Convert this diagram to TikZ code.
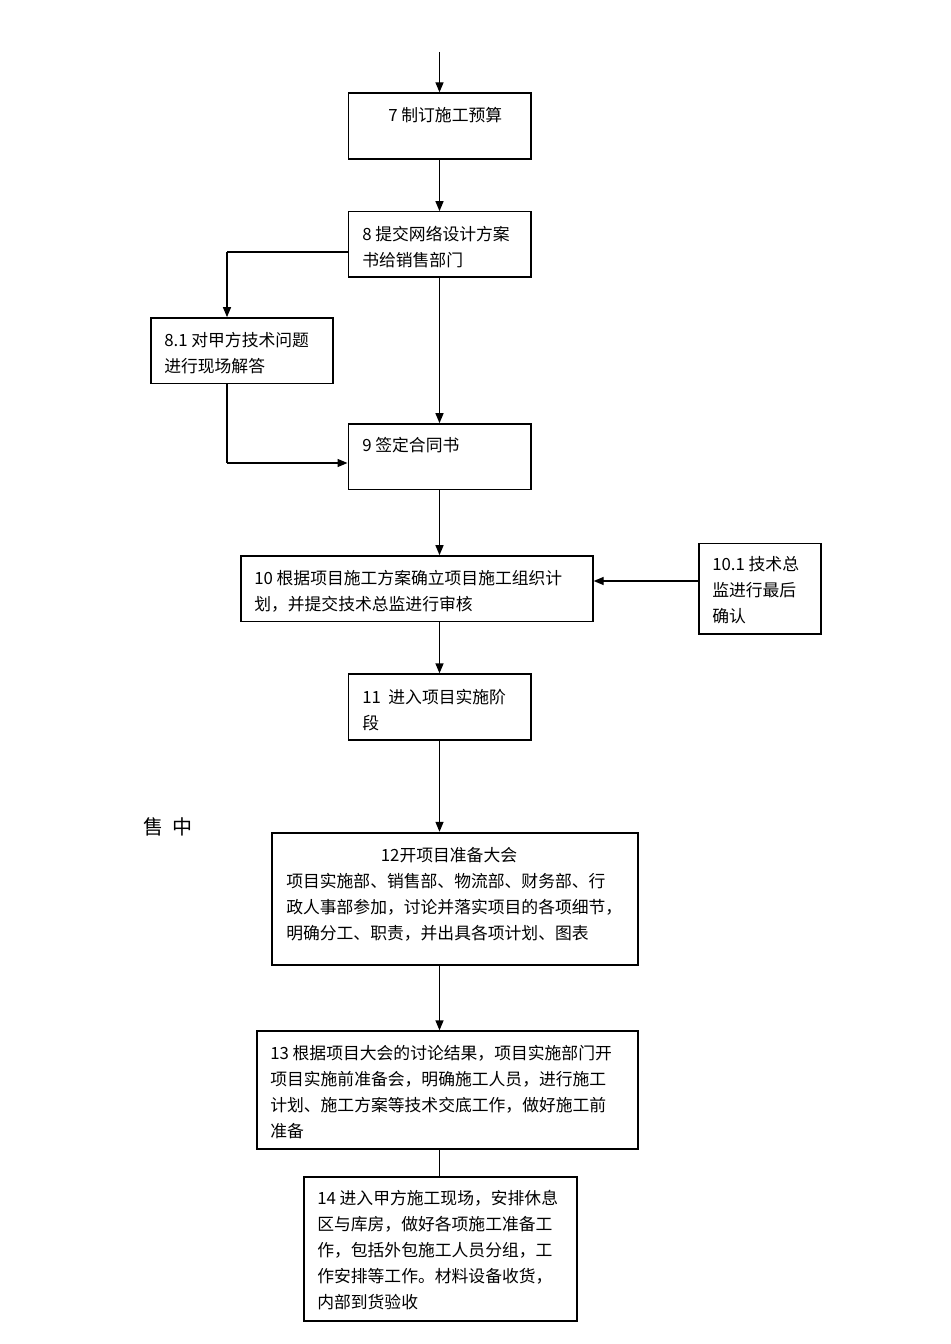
\documentclass[tikz,border=0pt]{standalone}
\usepackage{fontspec}
\setmainfont{Noto Sans CJK SC}
\usetikzlibrary{arrows.meta, positioning}

\begin{document}
\begin{tikzpicture}[x=0.75pt, y=-0.75pt,
        box/.style={draw, line width=1pt, inner sep=0pt},
        txt/.style={anchor=north west, inner sep=0pt, align=left, font=\fontsize{12.6}{19.5}\selectfont},
        arrow/.style={-{Triangle[length=7.5pt, width=6pt]}, line width=1pt},
        link/.style={line width=1pt}
      ]
        \useasboundingbox (0,0) rectangle (950,1344);

        % Boxes
        \node[box, minimum width=137pt, minimum height=49.5pt] (b7) at (439.5,126) {};
        \node[box, minimum width=137pt, minimum height=49pt] (b8) at (439.5,244.5) {};
        \node[box, minimum width=136.5pt, minimum height=49pt] (b81) at (242,350.5) {};
        \node[box, minimum width=137pt, minimum height=49pt] (b9) at (439.5,456.5) {};
        \node[box, minimum width=264pt, minimum height=49pt] (b10) at (417,588.5) {};
        \node[box, minimum width=91.5pt, minimum height=68pt] (b101) at (760,588.5) {};
        \node[box, minimum width=137pt, minimum height=49.5pt] (b11) at (439.5,707) {};
        \node[box, line width=1.8pt, minimum width=274.5pt, minimum height=99pt] (b12) at (455,899) {};
        \node[box, minimum width=285.75pt, minimum height=88.5pt] (b13) at (447.5,1090) {};
        \node[box, line width=1.5pt, minimum width=204.75pt, minimum height=108pt] (b14) at (440.5,1249) {};
        \coordinate (top) at (439.5,52);
        \coordinate (k8) at (227,252);
        \coordinate (k81) at (227,463);

        % Texts
        \node[txt] (t7) at (388,107) {7 制订施工预算};
        \node[txt] (t8) at (362,226) {8 提交网络设计方案\\书给销售部门};
        \node[txt] (t81) at (164,332) {8.1 对甲方技术问题\\进行现场解答};
        \node[txt] (t9) at (362,437) {9 签定合同书};
        \node[txt] (t10) at (254,570) {10 根据项目施工方案确立项目施工组织计\\划，并提交技术总监进行审核};
        \node[txt] (t101) at (712,556) {10.1 技术总\\监进行最后\\确认};
        \node[txt] (t11) at (362,689) {11 \ 进入项目实施阶\\段};
        \node[txt, anchor=north] (t12a) at (449,847) {12开项目准备大会};
        \node[txt] (t12) at (286,873) {项目实施部、销售部、物流部、财务部、行\\政人事部参加，讨论并落实项目的各项细节，\\明确分工、职责，并出具各项计划、图表};
        \node[txt] (t13) at (270,1045) {13 根据项目大会的讨论结果，项目实施部门开\\项目实施前准备会，明确施工人员，进行施工\\计划、施工方案等技术交底工作，做好施工前\\准备};
        \node[txt] (t14) at (317,1190) {14 进入甲方施工现场，安排休息\\区与库房，做好各项施工准备工\\作，包括外包施工人员分组，工\\作安排等工作。材料设备收货，\\内部到货验收};
        \node[txt, font=\fontsize{15}{18}\selectfont] (side) at (143,817) {售\ \ 中};

        % Connectors
        \draw[arrow] (top) -- (b7);
        \draw[arrow] (b7) -- (b8);
        \draw[link] (b8.west |- k8) -- (k8);
        \draw[arrow] (k8) -- (b81.north -| k8);
        \draw[arrow] (b8) -- (b9);
        \draw[link] (b81.south -| k81) -- (k81);
        \draw[arrow] (k81) -- (b9.west |- k81);
        \draw[arrow] (b9) -- (b9 |- b10.north);
        \draw[arrow] (b101.west |- 0,581) -- (b10.east |- 0,581);
        \draw[arrow] (b9 |- b10.south) -- (b11);
        \draw[arrow] (b11) -- (b11 |- b12.north);
        \draw[arrow] (b12.south -| b11) -- (b11 |- b13.north);
        \draw[link] (b13.south -| b11) -- (b11 |- b14.north);
\end{tikzpicture}
\end{document}
